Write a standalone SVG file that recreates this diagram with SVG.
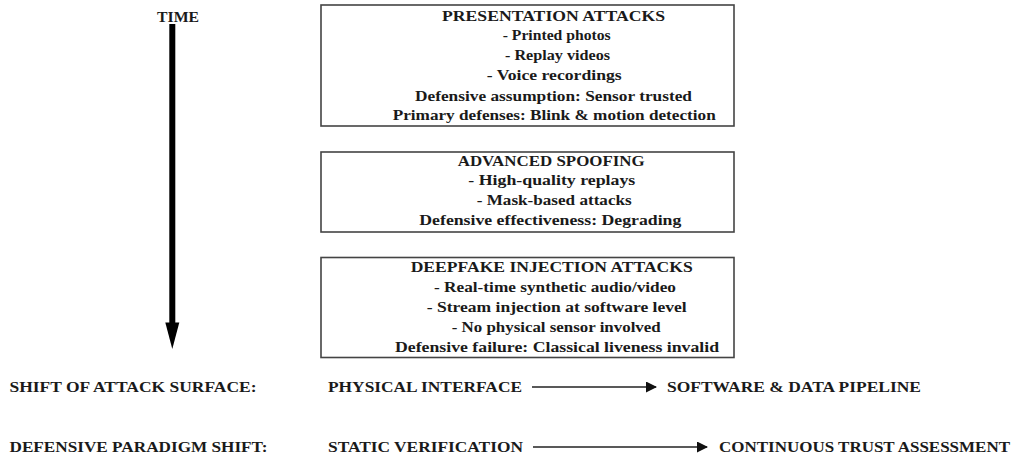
<svg xmlns="http://www.w3.org/2000/svg" width="1013" height="460" viewBox="0 0 1013 460">
<style>
text{font-family:'Liberation Serif','Times New Roman',serif;font-weight:bold;font-size:15.5px;fill:#1a1a1a}
.box{fill:#fff;stroke:#444;stroke-width:1.6}
.ln{stroke:#222;stroke-width:1.4}
</style>
<defs>
<marker id="ah" markerWidth="11" markerHeight="11" refX="10" refY="5.5" orient="auto" markerUnits="userSpaceOnUse">
<path d="M0,0 L11,5.5 L0,11 Z" fill="#111"/>
</marker>
</defs>
<rect width="1013" height="460" fill="#fff"/>
<g id="time">
<text x="157" y="21.5" textLength="42" lengthAdjust="spacingAndGlyphs">TIME</text>
<rect x="169.3" y="24" width="6" height="300" fill="#000"/>
<path d="M165.3,322.5 L179.3,322.5 L172.3,349 Z" fill="#000"/>
</g>
<g id="presentation">
<rect class="box" x="321" y="5" width="413" height="121"/>
<text x="442" y="20.7" textLength="223" lengthAdjust="spacingAndGlyphs">PRESENTATION ATTACKS</text>
<text x="502.7" y="40" textLength="108" lengthAdjust="spacingAndGlyphs">- Printed photos</text>
<text x="505" y="60" textLength="105" lengthAdjust="spacingAndGlyphs">- Replay videos</text>
<text x="486.7" y="80" textLength="135" lengthAdjust="spacingAndGlyphs">- Voice recordings</text>
<text x="415" y="100.5" textLength="277" lengthAdjust="spacingAndGlyphs">Defensive assumption: Sensor trusted</text>
<text x="392.7" y="120" textLength="323" lengthAdjust="spacingAndGlyphs">Primary defenses: Blink &amp; motion detection</text>
</g>
<g id="advanced">
<rect class="box" x="321" y="152" width="413" height="80"/>
<text x="457.7" y="165.7" textLength="187" lengthAdjust="spacingAndGlyphs">ADVANCED SPOOFING</text>
<text x="468.3" y="185" textLength="167" lengthAdjust="spacingAndGlyphs">- High-quality replays</text>
<text x="476.7" y="205" textLength="155" lengthAdjust="spacingAndGlyphs">- Mask-based attacks</text>
<text x="419.3" y="225" textLength="262" lengthAdjust="spacingAndGlyphs">Defensive effectiveness: Degrading</text>
</g>
<g id="deepfake">
<rect class="box" x="321" y="257.5" width="413" height="100"/>
<text x="410.7" y="271.7" textLength="282" lengthAdjust="spacingAndGlyphs">DEEPFAKE INJECTION ATTACKS</text>
<text x="434" y="291.7" textLength="242" lengthAdjust="spacingAndGlyphs">- Real-time synthetic audio/video</text>
<text x="426.7" y="311.7" textLength="260" lengthAdjust="spacingAndGlyphs">- Stream injection at software level</text>
<text x="451.7" y="331.7" textLength="209" lengthAdjust="spacingAndGlyphs">- No physical sensor involved</text>
<text x="395" y="351.7" textLength="324" lengthAdjust="spacingAndGlyphs">Defensive failure: Classical liveness invalid</text>
</g>
<g id="shift1">
<text x="9.5" y="392" textLength="247" lengthAdjust="spacingAndGlyphs">SHIFT OF ATTACK SURFACE:</text>
<text x="328" y="392" textLength="194" lengthAdjust="spacingAndGlyphs">PHYSICAL INTERFACE</text>
<text x="667" y="392" textLength="254" lengthAdjust="spacingAndGlyphs">SOFTWARE &amp; DATA PIPELINE</text>
</g>
<g id="shift2">
<text x="9.5" y="452" textLength="258" lengthAdjust="spacingAndGlyphs">DEFENSIVE PARADIGM SHIFT:</text>
<text x="328" y="452" textLength="195" lengthAdjust="spacingAndGlyphs">STATIC VERIFICATION</text>
<text x="719" y="452" textLength="291" lengthAdjust="spacingAndGlyphs">CONTINUOUS TRUST ASSESSMENT</text>
</g>
<g id="connectors">
<line class="ln" x1="532" y1="387" x2="656" y2="387" marker-end="url(#ah)"/>
<line class="ln" x1="533" y1="447" x2="707" y2="447" marker-end="url(#ah)"/>
</g>
</svg>
